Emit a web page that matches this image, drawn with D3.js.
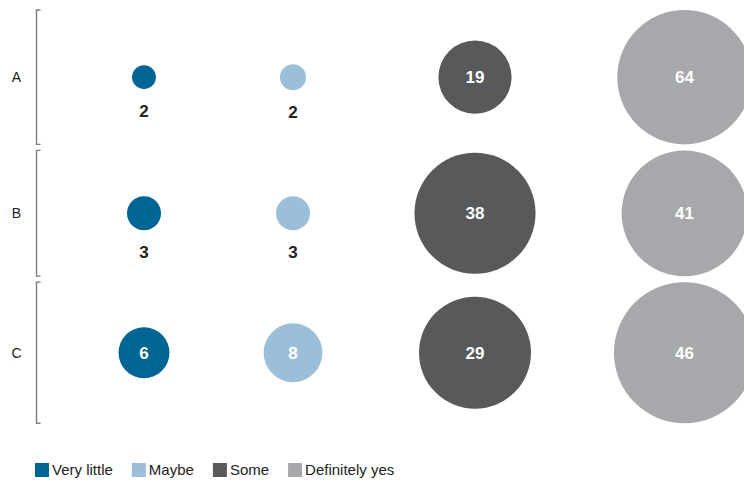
<!DOCTYPE html>
<html>
<head>
<meta charset="utf-8">
<script src="https://cdn.jsdelivr.net/npm/d3@7"></script>
<style>
  body { margin: 0; background: #fff; }
  svg { display: block; font-family: "Liberation Sans", Arial, sans-serif; }
</style>
</head>
<body>
<svg id="chart" width="744" height="482"></svg>
<script>
const rows = ["A", "B", "C"];
const answers = ["Very little", "Maybe", "Some", "Definitely yes"];
const colors = ["#006494", "#9bbfd9", "#58595b", "#a7a8ac"];

// values per row, in the order of answers
const rowA = [2, 2.4, 19, 64];
const rowB = [3, 3, 38, 41];
const rowC = [6, 8, 29, 46];
// bubble size weight per row (rows were sized on different bases)
const rowWeight = [1, 1.367, 1.533];

const values = [rowA, rowB, rowC];

const width = 744;
const height = 482;
const svg = d3.select("#chart");

const r = d3.scaleSqrt().domain([0, 100]).range([0, 84]);
const x = d3.scaleOrdinal().domain(answers).range([144, 293, 475, 684.5]);

// stack rows, each as tall as its largest bubble
const rowGap = 6;
let rowTop = 10;
const rowData = rows.map((name, i) => {
    const cells = values[i].map((v, j) => ({
        answer: answers[j],
        value: v,
        radius: r(v * rowWeight[i]),
        color: colors[j]
    }));
    const rmax = d3.max(cells, d => d.radius);
    const row = {name, cells, top: rowTop, bottom: rowTop + 2 * rmax, cy: rowTop + rmax};
    rowTop = row.bottom + rowGap;
    return row;
});

const row = svg.append("g")
    .selectAll("g")
    .data(rowData)
    .join("g");

// brackets
row.append("path")
    .attr("fill", "none")
    .attr("stroke", "#7d7d7d")
    .attr("stroke-width", 1.4)
    .attr("d", d => `M40.5,${d.top}H36.5V${d.bottom}H40.5`);

row.append("text")
    .attr("x", 16.5)
    .attr("y", d => d.cy)
    .attr("dy", "0.35em")
    .attr("text-anchor", "middle")
    .attr("font-size", 14)
    .attr("fill", "#222")
    .text(d => d.name);

const cell = row.selectAll("g")
    .data(d => d.cells.map(c => ({...c, cy: d.cy})))
    .join("g");

cell.append("circle")
    .attr("cx", d => x(d.answer))
    .attr("cy", d => d.cy)
    .attr("r", d => d.radius)
    .attr("fill", d => d.color);

cell.append("text")
    .attr("x", d => x(d.answer))
    .attr("y", d => d.radius < 20 ? d.cy + d.radius + 22 : d.cy)
    .attr("dy", "0.36em")
    .attr("text-anchor", "middle")
    .attr("font-size", 17)
    .attr("font-weight", "bold")
    .attr("fill", d => d.radius < 20 ? "#222" : "#fff")
    .text(d => Math.round(d.value));

// legend
const legend = svg.append("g").attr("transform", "translate(35,463)");
let lx = 0;
answers.forEach((a, i) => {
    const item = legend.append("g").attr("transform", `translate(${lx},0)`);
    item.append("rect")
        .attr("width", 14)
        .attr("height", 14)
        .attr("fill", colors[i]);
    const t = item.append("text")
        .attr("x", 17)
        .attr("y", 7)
        .attr("dy", "0.35em")
        .attr("font-size", 15)
        .attr("fill", "#222")
        .text(a);
    lx += 17 + t.node().getComputedTextLength() + 19;
});
</script>
</body>
</html>
